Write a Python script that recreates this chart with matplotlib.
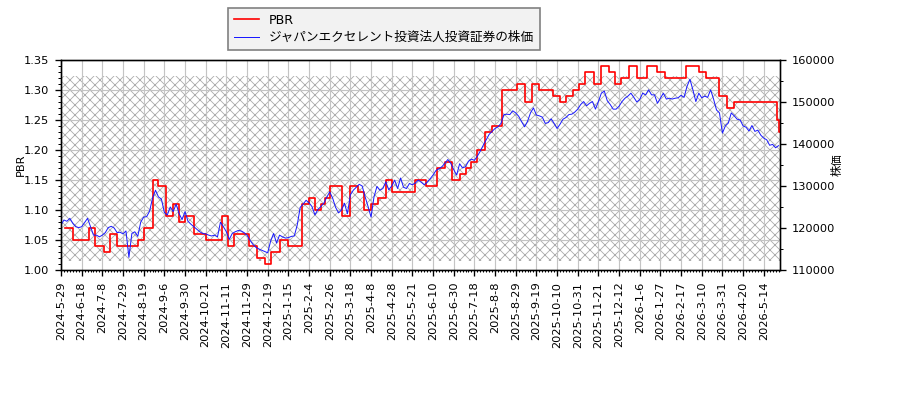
import numpy as np
import matplotlib
matplotlib.use("Agg")
import matplotlib.pyplot as plt
from matplotlib.ticker import MultipleLocator

plt.rcParams["font.family"] = ["DejaVu Sans", "Noto Sans CJK JP"]
plt.rcParams["font.size"] = 6.8
plt.rcParams["hatch.linewidth"] = 0.5

# trading-day tick labels, one every 14 sessions
date_labels = [
    "2024-5-29", "2024-6-18", "2024-7-8", "2024-7-29", "2024-8-19", "2024-9-6",
    "2024-9-30", "2024-10-21", "2024-11-11", "2024-11-29", "2024-12-19",
    "2025-1-15", "2025-2-4", "2025-2-26", "2025-3-18", "2025-4-8", "2025-4-28",
    "2025-5-21", "2025-6-10", "2025-6-30", "2025-7-18", "2025-8-8", "2025-8-29",
    "2025-9-19", "2025-10-10", "2025-10-31", "2025-11-21", "2025-12-12",
    "2026-1-6", "2026-1-27", "2026-2-17", "2026-3-10", "2026-3-31", "2026-4-20",
    "2026-5-14",
]
TICK_STEP = 14
N_DAYS = 488

# PBR as a step series: level and how many sessions it lasted
pbr_level = [
    np.nan, 1.07, 1.05, 1.07, 1.04, 1.03, 1.06, 1.04, 1.05, 1.07, 1.15, 1.14,
    1.09, 1.11, 1.08, 1.09, 1.06, 1.05, 1.09, 1.04, 1.06, 1.04, 1.02, 1.01,
    1.03, 1.05, 1.04, 1.11, 1.12, 1.10, 1.11, 1.12, 1.14, 1.09, 1.14, 1.13,
    1.10, 1.11, 1.12, 1.15, 1.13, 1.15, 1.14, 1.17, 1.18, 1.15, 1.16, 1.17,
    1.18, 1.20, 1.23, 1.24, 1.30, 1.31, 1.28, 1.31, 1.30, 1.29, 1.28, 1.29,
    1.30, 1.31, 1.33, 1.31, 1.34, 1.33, 1.31, 1.32, 1.34, 1.32, 1.34, 1.33,
    1.32, 1.34, 1.33, 1.32, 1.29, 1.27, 1.28, 1.25, 1.23,
]
pbr_days = [
    3, 5, 11, 4, 6, 4, 5, 14, 4, 6, 4, 5,
    5, 4, 4, 6, 8, 11, 4, 4, 10, 6, 5, 4,
    6, 6, 9, 5, 4, 4, 3, 3, 8, 6, 5, 4,
    5, 5, 5, 4, 16, 7, 8, 5, 5, 5, 4, 4,
    4, 5, 5, 7, 10, 5, 5, 5, 9, 5, 4, 5,
    4, 4, 6, 5, 5, 4, 4, 6, 5, 7, 7, 5,
    14, 9, 5, 9, 5, 5, 29, 1, 2,
]

# share price (yen), read every 2 sessions
price = [
    120700, 121900, 121600, 122300, 121100, 120300, 120100, 120300, 121300, 122300,
    120300, 118300, 118300, 117900, 118300, 118900, 120100, 120400, 120000, 118900,
    119000, 118600, 119300, 113000, 118700, 119100, 118000, 121400, 122600, 122700,
    124000, 127100, 129000, 127400, 126900, 123700, 123100, 125000, 123900, 125700,
    123400, 122000, 123900, 121600, 120900, 120300, 119700, 119100, 118700, 118600,
    118300, 118100, 118300, 117900, 121400, 120300, 119100, 117300, 118700, 119100,
    119400, 119300, 118900, 118300, 117100, 116100, 115400, 115000, 114700, 114400,
    114100, 116900, 118700, 116400, 118300, 117900, 117600, 117700, 118000, 118100,
    120700, 124900, 125700, 126600, 126000, 125100, 123100, 124400, 125100, 125900,
    127300, 128600, 127100, 124900, 123600, 124300, 125900, 123400, 127900, 129000,
    129700, 130400, 130000, 127400, 125100, 122600, 127400, 129900, 129000, 129400,
    131000, 129100, 130000, 131400, 129400, 131900, 129700, 129400, 130600, 130300,
    130700, 131400, 130900, 130300, 130900, 131700, 132600, 133700, 134100, 134600,
    135400, 136300, 135400, 133900, 132600, 135300, 134300, 134600, 135900, 136400,
    136100, 137100, 138300, 139700, 141000, 142300, 143000, 143700, 144100, 144900,
    147000, 147100, 147000, 147900, 147400, 146600, 145300, 144100, 145400, 147400,
    148600, 146900, 146700, 146400, 144900, 145100, 146000, 144900, 143700, 144700,
    145900, 146300, 147000, 147100, 147600, 148300, 149400, 150100, 149100, 149700,
    150100, 148300, 150100, 152100, 152600, 150300, 149400, 148300, 148300, 149000,
    150100, 150900, 151400, 152100, 151100, 150000, 150600, 152100, 151700, 152900,
    151700, 151700, 149700, 150900, 152100, 150700, 150900, 150700, 150900, 151000,
    151600, 151100, 153700, 155400, 152900, 150100, 152100, 151000, 151400, 151100,
    152900, 150700, 148100, 147400, 142600, 144300, 145000, 147400, 146700, 145900,
    145700, 144300, 144000, 143100, 144400, 143000, 143300, 142100, 141400, 141000,
    139700, 139900, 139100, 139600,
]
PRICE_STEP = 2

HATCH_BAND = (1.015, 1.324)   # shaded band, in PBR units

pbr = np.repeat(pbr_level, pbr_days)
x_pbr = np.arange(len(pbr))
x_price = np.arange(len(price)) * PRICE_STEP

fig = plt.figure(figsize=(7.5, 10 / 3), dpi=120)
ax1 = fig.add_axes([61 / 900, 130 / 400, 719 / 900, 210 / 400])
ax2 = ax1.twinx()

ax1.axhspan(*HATCH_BAND, facecolor="none", edgecolor="#acacac", hatch="xxxx",
            lw=0, zorder=0)
ax1.grid(True, color="#c4c4c4", lw=0.7, zorder=0.5)
ax1.set_axisbelow(True)

l1, = ax1.plot(x_pbr, pbr, color="red", lw=1.0, drawstyle="steps-post",
               label="PBR", zorder=3)
l2, = ax2.plot(x_price, price, color="#1a1aff", lw=0.6,
               label="ジャパンエクセレント投資法人投資証券の株価")

ax1.set_xlim(0, N_DAYS - 1)
ax1.set_ylim(1.00, 1.35)
ax2.set_ylim(110000, 160000)
ax1.yaxis.set_major_locator(MultipleLocator(0.05))
ax1.yaxis.set_minor_locator(MultipleLocator(0.01))
ax2.yaxis.set_major_locator(MultipleLocator(10000))
ax2.yaxis.set_minor_locator(MultipleLocator(5000))
ax1.set_yticklabels([f"{v:.2f}" for v in ax1.get_yticks()])

ax1.set_xticks(np.arange(len(date_labels)) * TICK_STEP)
ax1.set_xticklabels(date_labels, rotation=90)
ax1.xaxis.set_minor_locator(MultipleLocator(2))
ax1.tick_params(axis="x", which="minor", length=1.2)
ax1.tick_params(axis="y", which="minor", length=2)
ax2.tick_params(axis="y", which="minor", length=2)

ax1.set_ylabel("PBR", labelpad=-1)
ax2.set_ylabel("株価", labelpad=-2)

fig.legend(handles=[l1, l2], loc="upper left",
           bbox_to_anchor=(228 / 900, 1 - 8 / 400), borderaxespad=0,
           fontsize=7.6, fancybox=False, framealpha=1, facecolor="#f2f2f2",
           edgecolor="#808080", borderpad=0.45, labelspacing=0.35,
           handlelength=2.0)

fig.savefig("out.png", dpi=120)
